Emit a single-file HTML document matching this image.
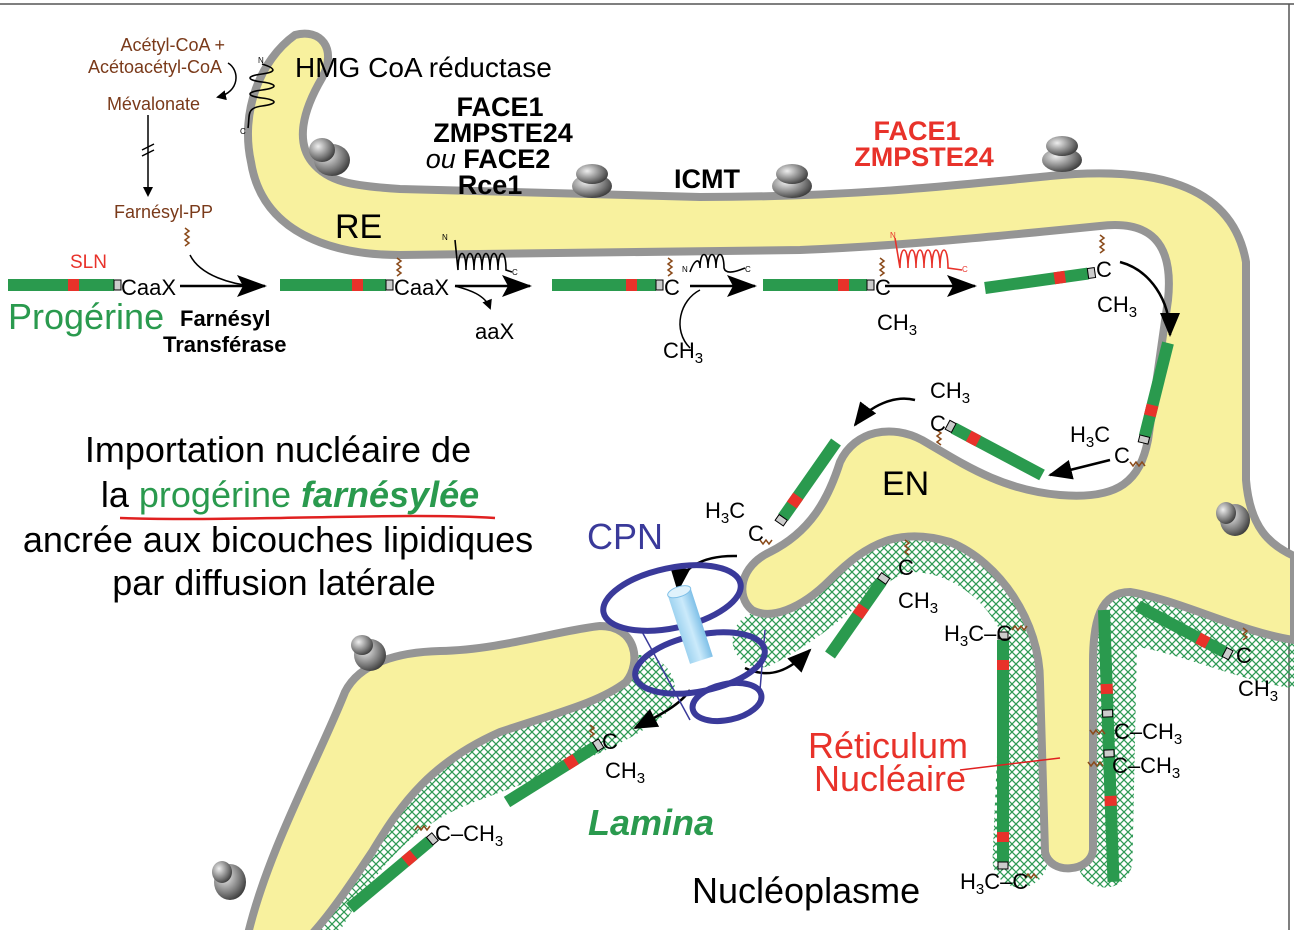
<!DOCTYPE html>
<html><head><meta charset="utf-8"><style>
html,body{margin:0;padding:0;background:#fff;}
svg{display:block;font-family:"Liberation Sans",Arial,sans-serif;}
</style></head><body>
<svg width="1294" height="930" viewBox="0 0 1294 930" xmlns="http://www.w3.org/2000/svg">
<defs>
<pattern id="hatch" width="8" height="8" patternUnits="userSpaceOnUse">
<path d="M0,0 L8,8 M8,0 L0,8" stroke="#2f9a55" stroke-width="1.3"/>
</pattern>
<marker id="ah" markerWidth="10" markerHeight="10" refX="8" refY="5" orient="auto" markerUnits="userSpaceOnUse">
<path d="M0,0 L10,5 L0,10 z" fill="#000"/></marker>
<marker id="big" markerWidth="30" markerHeight="22" refX="28" refY="11" orient="auto" markerUnits="userSpaceOnUse">
<path d="M0,0 L30,11 L0,22 L6,11 z" fill="#000"/></marker>
<marker id="mid" markerWidth="24" markerHeight="20" refX="22" refY="10" orient="auto" markerUnits="userSpaceOnUse">
<path d="M0,0 L24,10 L0,20 z" fill="#000"/></marker>
<radialGradient id="rib" cx="0.35" cy="0.35" r="0.8"><stop offset="0" stop-color="#eee"/><stop offset="0.6" stop-color="#777"/><stop offset="1" stop-color="#222"/></radialGradient>
<linearGradient id="cyl" x1="0" x2="1"><stop offset="0" stop-color="#9fd3f0"/><stop offset="0.5" stop-color="#cbeafb"/><stop offset="1" stop-color="#7fc0e8"/></linearGradient>
</defs>
<line x1="0" y1="4" x2="1294" y2="4" stroke="#555" stroke-width="1.5"/>
<line x1="1289" y1="4" x2="1289" y2="930" stroke="#555" stroke-width="1.5"/>

<g fill="none" stroke="url(#hatch)" stroke-linejoin="round" stroke-linecap="round">
<path d="M300,930 C340,860 380,800 460,770 C540,740 600,720 640,690" stroke-width="70"/>
<path d="M760,640 C820,610 860,560 900,545 C960,540 1010,580 1030,630 L1020,860" stroke-width="55"/>
<path d="M1105,860 L1110,620 C1150,610 1230,650 1290,660" stroke-width="55"/>
</g>

<g fill="#f8f19e" stroke="#959595" stroke-width="8" stroke-linejoin="round">
<path d="M295,35 C320,28 338,48 322,78 C302,112 296,142 312,162 C328,182 352,186 400,189 L700,197 C850,197 950,186 1050,176 C1150,166 1232,182 1246,262 L1246,480 C1250,528 1270,545 1294,556 L1294,640 C1240,632 1180,600 1130,592 C1100,592 1093,622 1093,662 L1093,850 C1091,872 1050,876 1045,852 L1040,682 C1040,622 1000,562 950,542 C900,527 868,542 830,580 C800,610 770,620 752,610 C735,596 740,566 770,552 C810,532 828,500 840,462 C855,430 892,424 922,440 C960,462 1000,490 1060,495 C1120,500 1140,480 1148,440 L1168,300 C1174,242 1150,220 1100,226 C1000,236 900,246 800,250 L400,255 C330,255 262,232 251,162 C240,112 260,60 295,35 Z"/>
<path d="M248,934 C268,850 318,760 345,692 C360,662 400,652 440,651 C500,650 560,630 600,626 C636,626 642,662 626,682 C600,702 560,712 500,732 C432,762 402,802 372,852 C352,882 332,912 312,934 Z"/>
</g>

<g fill="url(#rib)">
<ellipse cx="332" cy="160" rx="18" ry="16"/><ellipse cx="322" cy="150" rx="13" ry="12"/>
<ellipse cx="592" cy="186" rx="20" ry="12"/><ellipse cx="592" cy="174" rx="16" ry="10"/>
<ellipse cx="792" cy="186" rx="20" ry="12"/><ellipse cx="792" cy="174" rx="16" ry="10"/>
<ellipse cx="1062" cy="160" rx="20" ry="12"/><ellipse cx="1062" cy="146" rx="16" ry="10"/>
<ellipse cx="1235" cy="520" rx="15" ry="16"/><ellipse cx="1226" cy="513" rx="10" ry="11"/>
<ellipse cx="370" cy="655" rx="16" ry="16"/><ellipse cx="362" cy="645" rx="11" ry="10"/>
<ellipse cx="230" cy="882" rx="16" ry="18"/><ellipse cx="222" cy="872" rx="10" ry="11"/>
</g>

<g>
<g><rect x="8" y="279" width="106" height="12" fill="#2a9a4e"/><rect x="68" y="279" width="11" height="12" fill="#e8322a"/><rect x="114" y="280" width="7" height="10" fill="#ccc" stroke="#000"/></g>
<g><rect x="280" y="279" width="106" height="12" fill="#2a9a4e"/><rect x="352" y="279" width="11" height="12" fill="#e8322a"/><rect x="386" y="280" width="7" height="10" fill="#ccc" stroke="#000"/></g>
<g><rect x="552" y="279" width="104" height="12" fill="#2a9a4e"/><rect x="626" y="279" width="11" height="12" fill="#e8322a"/><rect x="656" y="280" width="7" height="10" fill="#ccc" stroke="#000"/></g>
<g><rect x="763" y="279" width="104" height="12" fill="#2a9a4e"/><rect x="838" y="279" width="11" height="12" fill="#e8322a"/><rect x="867" y="280" width="7" height="10" fill="#ccc" stroke="#000"/></g>
<g transform="translate(985,288) rotate(-8)"><rect x="0" y="-6" width="104" height="12" fill="#2a9a4e"/><rect x="70" y="-6" width="11" height="12" fill="#e8322a"/><rect x="104" y="-5" width="7" height="10" fill="#ccc" stroke="#000"/></g>
<g transform="translate(1168,343) rotate(104)"><rect x="0" y="-6" width="96" height="12" fill="#2a9a4e"/><rect x="64" y="-6" width="11" height="12" fill="#e8322a"/><rect x="96" y="-5" width="7" height="10" fill="#ccc" stroke="#000"/></g>
<g transform="translate(1042,475) rotate(-152)"><rect x="0" y="-6" width="100" height="12" fill="#2a9a4e"/><rect x="72" y="-6" width="11" height="12" fill="#e8322a"/><rect x="100" y="-5" width="7" height="10" fill="#ccc" stroke="#000"/></g>
<g transform="translate(836,442) rotate(125)"><rect x="0" y="-6" width="92" height="12" fill="#2a9a4e"/><rect x="66" y="-6" width="11" height="12" fill="#e8322a"/><rect x="92" y="-5" width="7" height="10" fill="#ccc" stroke="#000"/></g>
<g transform="translate(830,655) rotate(-55)"><rect x="0" y="-6" width="90" height="12" fill="#2a9a4e"/><rect x="48" y="-6" width="11" height="12" fill="#e8322a"/><rect x="90" y="-5" width="7" height="10" fill="#ccc" stroke="#000"/></g>
<g transform="translate(1138,606) rotate(28)"><rect x="0" y="-6" width="98" height="12" fill="#2a9a4e"/><rect x="68" y="-6" width="11" height="12" fill="#e8322a"/><rect x="98" y="-5" width="7" height="10" fill="#ccc" stroke="#000"/></g>
<g><rect x="997" y="640" width="12" height="222" fill="#2a9a4e"/><rect x="997" y="660" width="12" height="10" fill="#e8322a"/><rect x="997" y="832" width="12" height="10" fill="#e8322a"/><rect x="998" y="862" width="10" height="7" fill="#ccc" stroke="#000"/><rect x="998" y="632" width="10" height="7" fill="#ccc" stroke="#000"/></g>
<g transform="translate(1104,610) rotate(88)"><rect x="0" y="-6" width="272" height="12" fill="#2a9a4e"/><rect x="74" y="-6" width="10" height="12" fill="#e8322a"/><rect x="186" y="-6" width="10" height="12" fill="#e8322a"/><rect x="100" y="-5" width="7" height="10" fill="#ccc" stroke="#000"/><rect x="140" y="-5" width="7" height="10" fill="#ccc" stroke="#000"/></g>
<g transform="translate(507,802) rotate(-32)"><rect x="0" y="-6" width="104" height="12" fill="#2a9a4e"/><rect x="70" y="-6" width="11" height="12" fill="#e8322a"/><rect x="104" y="-5" width="7" height="10" fill="#ccc" stroke="#000"/></g>
<g transform="translate(350,908) rotate(-40)"><rect x="0" y="-6" width="104" height="12" fill="#2a9a4e"/><rect x="72" y="-6" width="11" height="12" fill="#e8322a"/><rect x="104" y="-5" width="7" height="10" fill="#ccc" stroke="#000"/></g>
</g>

<g fill="none" stroke="#8a4a1a" stroke-width="1.5">
<path d="M185,228 l4,3 -4,3 4,3 -4,3 4,3 -4,3"/>
<path d="M397,258 l4,3 -4,3 4,3 -4,3 4,3 -4,3"/>
<path d="M668,258 l4,3 -4,3 4,3 -4,3 4,3 -4,3"/>
<path d="M880,258 l4,3 -4,3 4,3 -4,3 4,3 -4,3"/>
<path d="M1100,235 l4,3 -4,3 4,3 -4,3 4,3 -4,3"/>
<path d="M1130,462 l3,4 3,-4 3,4 3,-4 3,4"/>
<path d="M937,430 l4,3 -4,3 4,3 -4,3 4,3"/>
<path d="M760,540 l3,4 3,-4 3,4 3,-4"/>
<path d="M905,540 l4,3 -4,3 4,3 -4,3 4,3"/>
<path d="M1012,630 l3,-4 3,4 3,-4 3,4 3,-4"/>
<path d="M1243,628 l4,3 -4,3 4,3 -4,3"/>
<path d="M1090,730 l3,4 3,-4 3,4 3,-4 3,4"/>
<path d="M1088,762 l3,4 3,-4 3,4 3,-4 3,4"/>
<path d="M1025,878 l3,-4 3,4 3,-4 3,4"/>
<path d="M590,725 l4,3 -4,3 4,3 -4,3"/>
<path d="M415,830 l3,-4 3,4 3,-4 3,4 3,-4"/>
</g>

<g fill="none" stroke="#000" stroke-width="1.6">
<path d="M262,64 C275,68 278,72 262,74 C246,76 246,80 262,82 C278,84 278,88 262,90 C246,92 246,96 262,98 C278,100 278,104 262,106 C246,108 250,115 248,128"/>
<path d="M455,240 L458,270 C458,248 466,248 466,270 C466,248 474,248 474,270 C474,248 482,248 482,270 C482,248 490,248 490,270 C490,248 498,248 498,270 C498,248 506,248 506,270 L512,272"/>
<path d="M690,272 C695,258 700,258 700,268 C700,250 708,250 708,268 C708,250 716,250 716,268 C716,250 724,250 724,268 C726,276 740,270 745,268"/>
</g>
<path d="M895,238 L900,268 C900,244 908,244 908,268 C908,244 916,244 916,268 C916,244 924,244 924,268 C924,244 932,244 932,268 C932,244 940,244 940,268 C940,244 948,244 948,268 L962,270" fill="none" stroke="#e8322a" stroke-width="1.6"/>

<g fill="none" stroke="#000" stroke-width="2.5">
<path d="M180,286 L265,286" marker-end="url(#big)"/>
<path d="M455,286 L530,286" marker-end="url(#big)"/>
<path d="M690,286 L755,286" marker-end="url(#big)"/>
<path d="M885,286 L975,286" marker-end="url(#big)"/>
<path d="M1120,262 C1150,270 1170,300 1170,335" marker-end="url(#mid)"/>
<path d="M1110,460 L1050,475" marker-end="url(#mid)"/>
<path d="M915,400 C895,395 870,405 855,425" marker-end="url(#mid)"/>
<path d="M190,255 C200,275 230,285 262,287" stroke-width="1.5"/>
<path d="M455,286 C470,290 485,295 490,308" stroke-width="1.5" marker-end="url(#ah)"/>
<path d="M690,348 C672,330 680,300 700,290" stroke-width="1.5"/>
<path d="M148,115 L148,195" stroke-width="1.5" marker-end="url(#ah)"/>
<path d="M228,63 C240,70 240,92 218,97" stroke-width="1.5" marker-end="url(#ah)"/>
<path d="M737,556 C700,555 680,570 678,590" marker-end="url(#mid)"/>
<path d="M745,668 C770,680 790,670 810,650" marker-end="url(#mid)"/>
<path d="M690,690 C680,705 660,715 635,728" marker-end="url(#mid)"/>
</g>
<path d="M142,150 l12,-6 M142,156 l12,-6" stroke="#000" stroke-width="1.5"/>
<path d="M120,518 C250,522 400,512 495,518" stroke="#e02020" stroke-width="2.5" fill="none"/>
<path d="M960,770 L1060,758" stroke="#e02020" stroke-width="1.5"/>

<g fill="none" stroke="#3a3a9a" stroke-width="6">
<ellipse cx="672" cy="598" rx="70" ry="30" transform="rotate(-12 672 598)"/>
<ellipse cx="700" cy="663" rx="66" ry="28" transform="rotate(-12 700 663)"/>
<ellipse cx="727" cy="702" rx="35" ry="18" transform="rotate(-12 727 702)"/>
</g>
<path d="M640,628 L690,720 M765,630 L760,690" stroke="#3a3a9a" stroke-width="1.5"/>
<g transform="rotate(-18 690 625)"><rect x="678" y="590" width="24" height="72" fill="url(#cyl)"/><ellipse cx="690" cy="590" rx="12" ry="5" fill="#dff2fc" stroke="#7fc0e8"/></g>

<g fill="#7a3a1a" font-size="18" text-anchor="end">
<text x="225" y="51">Acétyl-CoA +</text>
<text x="222" y="73">Acétoacétyl-CoA</text>
<text x="200" y="110">Mévalonate</text>
<text x="213" y="218">Farnésyl-PP</text>
</g>
<text x="258" y="63" font-size="8">N</text><text x="240" y="134" font-size="8">C</text>
<text x="442" y="240" font-size="8">N</text><text x="512" y="275" font-size="8">C</text>
<text x="682" y="272" font-size="8">N</text><text x="745" y="272" font-size="8">C</text>
<text x="890" y="238" font-size="8" fill="#e8322a">N</text><text x="962" y="272" font-size="8" fill="#e8322a">C</text>
<text x="295" y="77" font-size="28">HMG CoA réductase</text>
<g font-size="27" font-weight="bold" text-anchor="middle">
<text x="500" y="116">FACE1</text><text x="503" y="142">ZMPSTE24</text>
<text x="488" y="168"><tspan font-style="italic" font-weight="normal">ou</tspan> FACE2</text>
<text x="490" y="194">Rce1</text>
<text x="707" y="188">ICMT</text>
<text x="917" y="140" fill="#e8322a">FACE1</text><text x="924" y="166" fill="#e8322a">ZMPSTE24</text>
</g>
<text x="335" y="238" font-size="34">RE</text>
<text x="882" y="495" font-size="34">EN</text>
<text x="70" y="268" font-size="19" fill="#e8322a">SLN</text>
<text x="121" y="295" font-size="22">CaaX</text>
<text x="394" y="295" font-size="22">CaaX</text>
<text x="8" y="329" font-size="36" fill="#2a9a4e">Progérine</text>
<text x="180" y="326" font-size="22" font-weight="bold">Farnésyl</text>
<text x="163" y="352" font-size="22" font-weight="bold">Transférase</text>
<text x="475" y="339" font-size="22">aaX</text>
<g font-size="22">
<text x="664" y="295">C</text><text x="663" y="358">CH<tspan font-size="15" dy="5">3</tspan></text>
<text x="875" y="295">C</text><text x="877" y="330">CH<tspan font-size="15" dy="5">3</tspan></text>
<text x="1096" y="277">C</text><text x="1097" y="312">CH<tspan font-size="15" dy="5">3</tspan></text>
<text x="1070" y="442">H<tspan font-size="15" dy="5">3</tspan><tspan dy="-5">C</tspan></text><text x="1114" y="463">C</text>
<text x="930" y="398">CH<tspan font-size="15" dy="5">3</tspan></text><text x="930" y="431">C</text>
<text x="705" y="518">H<tspan font-size="15" dy="5">3</tspan><tspan dy="-5">C</tspan></text><text x="748" y="541">C</text>
<text x="898" y="575">C</text><text x="898" y="608">CH<tspan font-size="15" dy="5">3</tspan></text>
<text x="944" y="641">H<tspan font-size="15" dy="5">3</tspan><tspan dy="-5">C–C</tspan></text>
<text x="1236" y="663">C</text><text x="1238" y="696">CH<tspan font-size="15" dy="5">3</tspan></text>
<text x="1114" y="739">C–CH<tspan font-size="15" dy="5">3</tspan></text>
<text x="1112" y="773">C–CH<tspan font-size="15" dy="5">3</tspan></text>
<text x="960" y="889">H<tspan font-size="15" dy="5">3</tspan><tspan dy="-5">C–C</tspan></text>
<text x="602" y="749">C</text><text x="605" y="778">CH<tspan font-size="15" dy="5">3</tspan></text>
<text x="435" y="841">C–CH<tspan font-size="15" dy="5">3</tspan></text>
</g>
<g font-size="36" text-anchor="middle">
<text x="278" y="462">Importation nucléaire de</text>
<text x="290" y="507">la <tspan fill="#2a9a4e">progérine <tspan font-weight="bold" font-style="italic">farnésylée</tspan></tspan></text>
<text x="278" y="552">ancrée aux bicouches lipidiques</text>
<text x="274" y="595">par diffusion latérale</text>
</g>
<text x="587" y="549" font-size="36" fill="#3a3a9a">CPN</text>
<text x="588" y="835" font-size="36" fill="#2a9a4e" font-weight="bold" font-style="italic">Lamina</text>
<text x="692" y="903" font-size="36">Nucléoplasme</text>
<text x="808" y="758" font-size="36" fill="#e8322a">Réticulum</text>
<text x="814" y="791" font-size="36" fill="#e8322a">Nucléaire</text>
</svg>
</body></html>
